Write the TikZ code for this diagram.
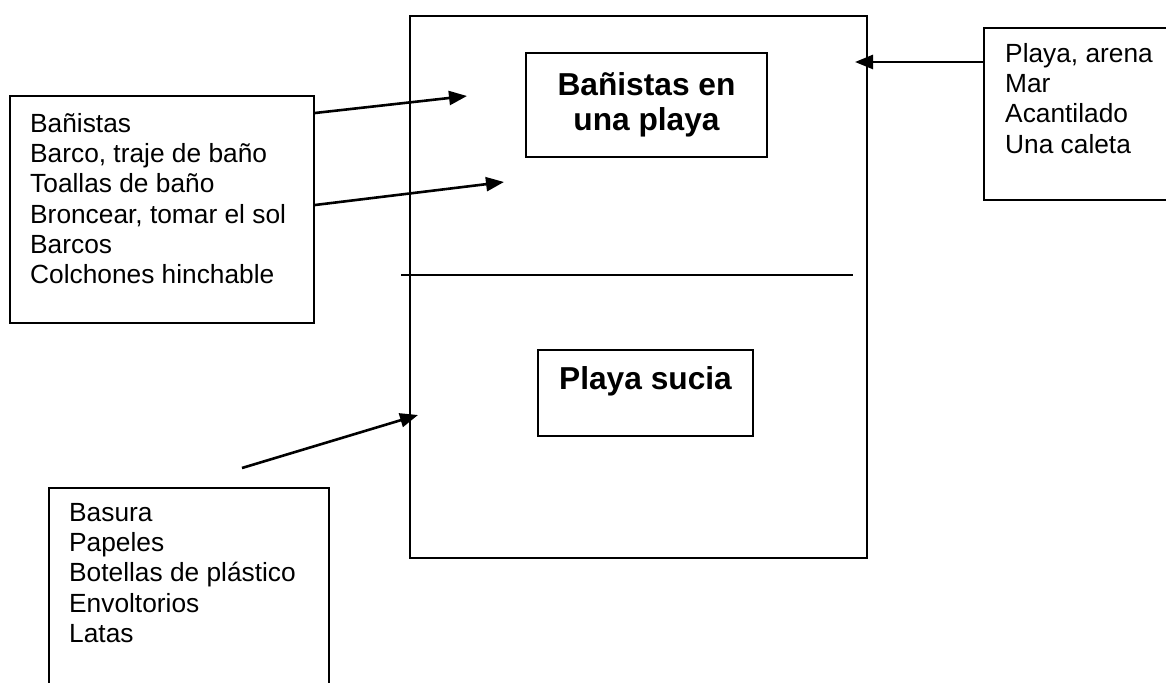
\documentclass[tikz,border=0pt]{standalone}
\usepackage{fontspec}
\setmainfont{Liberation Sans}
\usepackage{tikz}
\usetikzlibrary{arrows.meta,positioning}

\newcommand{\listfont}{\fontsize{26.3}{30.3}\selectfont}
\newcommand{\headfont}{\fontsize{31.7}{34.5}\selectfont\bfseries}

\begin{document}
\begin{tikzpicture}[x=1pt, y=-1pt,
  box/.style={draw, line width=2pt, inner sep=0pt},
  listtext/.style={inner sep=0pt, align=left, font=\listfont},
  headbox/.style={box, align=center, font=\headfont},
  pointer/.style={line width=2.6pt, -{Triangle[length=18pt,width=14pt]}}]
\clip (0,0) rectangle (1166,682);
\node [box, anchor=north west, minimum width=457pt, minimum height=542pt] (frame) at (409,15) {};
\draw [line width=2pt] (401,275) -- (853,275);
\node [headbox, minimum width=241pt, minimum height=104pt] (title) at (646.5,105) {Bañistas en\\una playa};
\node [headbox, minimum width=215pt, minimum height=86pt, text height=23pt, text depth=31pt] (dirty) at (645.5,393) {Playa sucia};

\node [box, anchor=north west, minimum width=304pt, minimum height=227pt] (bathers) at (9,95) {};
\node [listtext, below right=18pt and 21pt of bathers.north west] (bathersitems)
  {Bañistas\\Barco, traje de baño\\Toallas de baño\\Broncear, tomar el sol\\Barcos\\Colchones hinchable};
\node [box, anchor=north west, minimum width=260pt, minimum height=172pt] (setting) at (983,27) {};
\node [listtext, below right=16pt and 22pt of setting.north west] (settingitems)
  {Playa, arena\\Mar\\Acantilado\\Una caleta};
\node [box, anchor=north west, minimum width=280pt, minimum height=260pt] (litter) at (48,487) {};
\node [listtext, below right=16pt and 21pt of litter.north west] (litteritems)
  {Basura\\Papeles\\Botellas de plástico\\Envoltorios\\Latas};

\coordinate (bathersin) at (467,96);
\coordinate (sunin) at (504,182);
\coordinate (litterin) at (418,415);
\coordinate (settingin) at (855,62);
\draw [pointer] ([yshift=-18pt]bathers.north east) to (bathersin);
\draw [pointer] ([yshift=-110pt]bathers.north east) to (sunin);
\draw [pointer] ([xshift=194pt,yshift=19pt]litter.north west) to (litterin);
\draw [pointer] ([yshift=-35pt]setting.north west) to (settingin);
\end{tikzpicture}
\end{document}
